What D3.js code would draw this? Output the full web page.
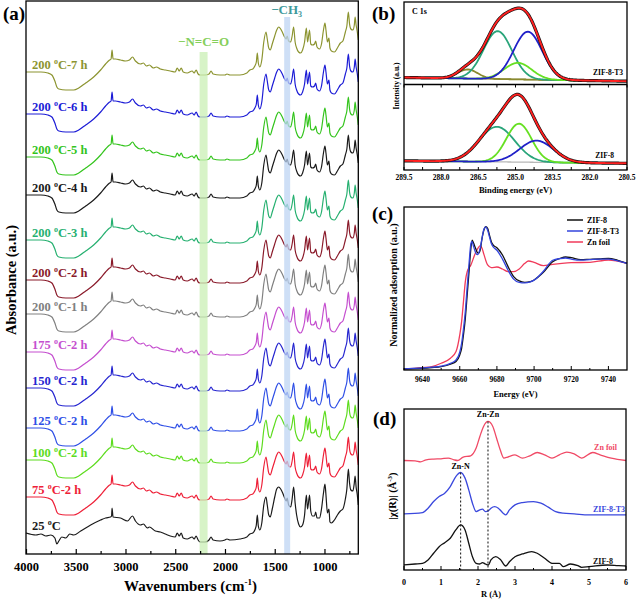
<!DOCTYPE html>
<html><head><meta charset="utf-8">
<script src="https://cdnjs.cloudflare.com/ajax/libs/d3/7.8.5/d3.min.js"></script>
<style>
body{margin:0;background:#fff}
svg{display:block}
text{font-family:"Liberation Serif","Times New Roman",serif;font-weight:bold}
</style>
</head><body>
<svg id="fig" width="638" height="601"></svg>
<script>
// ---------------- DATA ----------------
// (a) FTIR spectra: shape of the treated samples and of the pristine sample (wavenumber, a.u.)
const ftirTreatedShape = [[4000,0],[3850,0],[3780,-0.01],[3740,-0.03],[3710,-0.09],[3690,-0.15],[3670,-0.17],[3600,-0.18],[3520,-0.18],[3470,-0.16],[3400,-0.11],[3320,-0.05],[3250,0.02],[3200,0.08],[3160,0.12],[3145,0.13],[3135,0.22],[3125,0.13],[3100,0.13],[3050,0.12],[3000,0.11],[2960,0.12],[2930,0.15],[2900,0.11],[2850,0.08],[2820,0.09],[2790,0.06],[2760,0.07],[2720,0.04],[2690,0.05],[2650,0.03],[2600,0.02],[2550,0.01],[2500,0],[2480,0.04],[2460,0.01],[2440,0.04],[2420,0],[2380,-0.01],[2330,0.01],[2310,-0.01],[2290,0.02],[2270,-0.02],[2250,-0.03],[2200,-0.03],[2160,-0.02],[2140,0.01],[2120,-0.02],[2050,-0.03],[2000,-0.03],[1980,-0.02],[1950,-0.03],[1850,-0.03],[1780,-0.01],[1750,0.02],[1720,0.03],[1700,0.06],[1685,0.10],[1675,0.19],[1665,0.09],[1650,0.05],[1630,0.12],[1610,0.30],[1588,0.40],[1575,0.33],[1560,0.24],[1545,0.22],[1525,0.28],[1500,0.36],[1480,0.42],[1460,0.45],[1440,0.43],[1420,0.39],[1400,0.35],[1385,0.33],[1375,0.36],[1360,0.31],[1340,0.30],[1325,0.36],[1310,0.45],[1295,0.30],[1280,0.24],[1260,0.20],[1240,0.19],[1220,0.22],[1200,0.30],[1182,0.44],[1170,0.30],[1150,0.42],[1138,0.28],[1120,0.27],[1100,0.28],[1088,0.31],[1075,0.25],[1050,0.23],[1030,0.28],[1010,0.42],[995,0.49],[985,0.42],[970,0.30],[955,0.34],[945,0.24],[930,0.21],[900,0.20],[870,0.24],[840,0.29],[815,0.31],[790,0.40],[775,0.46],[760,0.60],[748,0.48],[735,0.43],[715,0.42],[700,0.47],[692,0.55],[682,0.47],[670,0.40],[660,0.32]];
const ftirPristineShape = [[4000,0],[3900,-0.02],[3850,-0.01],[3800,-0.03],[3750,-0.02],[3710,-0.05],[3690,-0.11],[3670,-0.08],[3640,-0.04],[3600,-0.05],[3560,-0.01],[3520,-0.02],[3450,0.02],[3350,0.08],[3250,0.13],[3200,0.15],[3150,0.16],[3140,0.17],[3135,0.25],[3125,0.16],[3050,0.15],[2980,0.12],[2930,0.17],[2900,0.12],[2850,0.08],[2820,0.09],[2780,0.05],[2760,0.06],[2700,0.02],[2650,0.01],[2600,-0.01],[2550,-0.03],[2500,-0.04],[2480,0],[2460,-0.03],[2440,0],[2420,-0.05],[2380,-0.06],[2330,-0.04],[2310,-0.06],[2290,-0.03],[2270,-0.07],[2250,-0.09],[2200,-0.09],[2160,-0.07],[2140,-0.04],[2120,-0.07],[2050,-0.08],[2000,-0.07],[1980,-0.06],[1950,-0.07],[1850,-0.06],[1780,-0.04],[1750,-0.01],[1720,0],[1700,0.03],[1685,0.08],[1675,0.18],[1665,0.07],[1650,0.03],[1630,0.10],[1610,0.28],[1588,0.36],[1575,0.28],[1560,0.18],[1545,0.16],[1525,0.24],[1500,0.36],[1480,0.44],[1460,0.46],[1440,0.44],[1420,0.40],[1400,0.35],[1385,0.32],[1375,0.35],[1360,0.28],[1340,0.26],[1325,0.34],[1310,0.46],[1295,0.30],[1280,0.18],[1260,0.09],[1240,0.06],[1220,0.08],[1200,0.18],[1182,0.38],[1170,0.24],[1150,0.38],[1138,0.22],[1120,0.17],[1100,0.17],[1088,0.21],[1075,0.15],[1050,0.15],[1030,0.24],[1010,0.40],[995,0.49],[985,0.38],[970,0.20],[955,0.24],[945,0.11],[930,0.10],[900,0.13],[870,0.18],[840,0.22],[815,0.24],[790,0.34],[775,0.44],[760,0.64],[748,0.50],[735,0.43],[715,0.42],[700,0.50],[692,0.57],[682,0.46],[670,0.38],[660,0.28]];
const ftirTemps   = ["200","200","200","200","200","200","200","175","150","125","100","75","25"];
const ftirTimes   = ["-7 h","-6 h","-5 h","-4 h","-3 h","-2 h","-1 h","-2 h","-2 h","-2 h","-2 h","-2 h",""];
const ftirOffsets = [4.82,4.40,3.97,3.59,3.14,2.74,2.40,2.02,1.66,1.26,0.94,0.57,0.21];
const ftirUsesPristine = [false,false,false,false,false,false,false,false,false,false,false,false,true];
const ftirColors  = ["#8c9430","#1c1cd6","#33c41c","#1a1a1a","#26b070","#8a1a2a","#808080","#c54fcf","#2626d0","#2f4fe6","#5ddc1e","#ee2038","#1a1a1a"];
const ftirXTicks  = [4000,3500,3000,2500,2000,1500,1000];
const ftirBands   = [[2255,2175],[1405,1345]];
const ftirBandColors = ["#c9efb4","#bdd4f3"];

// (b) XPS C 1s peak fits: centre (eV), height (a.u.), FWHM (eV)
const xpsT3Centre = [286.93,285.72,284.90,284.50];
const xpsT3Height = [0.11,0.58,0.20,0.58];
const xpsT3Fwhm   = [0.95,1.35,1.30,1.35];
const xpsT3Colors = ["#8a8a2e","#2aa57a","#66e022","#2020c8"];
const xpsT3Background = [[289.5,0.085],[280.5,0.04]];
const xpsZ8Centre = [285.75,284.86,284.15];
const xpsZ8Height = [0.42,0.46,0.26];
const xpsZ8Fwhm   = [1.70,1.20,1.60];
const xpsZ8Colors = ["#2aa57a","#66e022","#2020c8"];
const xpsZ8Background = [[289.5,0.11],[280.5,0.08]];
const xpsXTicks = [289.5,288.0,286.5,285.0,283.5,282.0,280.5];

// (c) XANES (energy eV, normalized absorption)
const xanesZIF8 = [[9630,0],[9645,0.012],[9650,0.021],[9655,0.042],[9658,0.066],[9660,0.126],[9661,0.186],[9662,0.306],[9663,0.456],[9664,0.667],[9665,0.877],[9666,1.087],[9666.7,1.162],[9667.5,1.132],[9668.5,1.087],[9670,1.042],[9671,1.072],[9672,1.177],[9673,1.252],[9674,1.282],[9675,1.267],[9676,1.207],[9677,1.147],[9678,1.117],[9680,1.093],[9683,1.027],[9686,0.922],[9689,0.832],[9692,0.793],[9695,0.781],[9698,0.787],[9700,0.802],[9705,0.871],[9710,0.967],[9714,0.997],[9717,1.009],[9720,1.003],[9725,0.985],[9730,0.988],[9735,0.991],[9740,0.997],[9745,0.979],[9750,0.952]];
const xanesZIF8T3 = [[9630,0],[9645,0.015],[9650,0.025],[9655,0.05],[9658,0.08],[9660,0.15],[9661,0.23],[9662,0.36],[9663,0.52],[9664,0.74],[9665,0.95],[9666,1.13],[9666.5,1.15],[9667.5,1.10],[9668.5,1.05],[9669.5,1.03],[9671,1.09],[9672,1.18],[9673,1.26],[9674,1.28],[9675,1.25],[9676,1.19],[9677,1.13],[9678,1.10],[9680,1.07],[9683,0.99],[9686,0.89],[9689,0.81],[9692,0.78],[9695,0.775],[9698,0.785],[9700,0.80],[9705,0.88],[9710,0.98],[9714,0.995],[9717,1.0],[9720,0.99],[9725,0.98],[9730,0.985],[9735,0.99],[9740,0.99],[9745,0.975],[9750,0.952]];
const xanesZnFoil = [[9630,0],[9640,0.012],[9645,0.021],[9650,0.051],[9655,0.096],[9658,0.156],[9660,0.306],[9661,0.426],[9662,0.607],[9663,0.787],[9664,0.877],[9666,0.937],[9668,1.027],[9670,1.093],[9671,1.111],[9672,1.087],[9673,1.033],[9675,0.937],[9677,0.913],[9680,0.919],[9683,0.901],[9686,0.877],[9689,0.877],[9692,0.901],[9695,0.952],[9697,0.973],[9700,0.961],[9705,0.931],[9710,0.943],[9715,0.952],[9720,0.958],[9730,0.961],[9740,0.982],[9750,0.952]];
const xanesNames  = ["ZIF-8","ZIF-8-T3","Zn foil"];
const xanesColors = ["#111111","#3344dd","#f03a5a"];
const xanesXTicks = [9640,9660,9680,9700,9720,9740];

// (d) EXAFS FT magnitude (R in Å, a.u., offset)
const exafsZnFoil = [[0,1.093],[0.3,1.09],[0.45,1.08],[0.6,1.1],[0.8,1.107],[1.0,1.11],[1.2,1.117],[1.35,1.1],[1.45,1.093],[1.6,1.127],[1.8,1.14],[1.95,1.217],[2.05,1.333],[2.15,1.433],[2.27,1.483],[2.4,1.433],[2.5,1.317],[2.6,1.2],[2.7,1.117],[2.8,1.127],[3.0,1.15],[3.2,1.117],[3.4,1.14],[3.6,1.173],[3.8,1.15],[4.0,1.117],[4.2,1.15],[4.4,1.177],[4.6,1.16],[4.8,1.117],[5.1,1.173],[5.3,1.15],[5.6,1.117],[6.0,1.093]];
const exafsZIF8T3 = [[0,0.56],[0.5,0.573],[0.65,0.617],[0.8,0.683],[0.95,0.733],[1.1,0.767],[1.25,0.833],[1.4,0.933],[1.53,0.973],[1.65,0.917],[1.75,0.8],[1.85,0.667],[1.95,0.583],[2.05,0.6],[2.12,0.607],[2.2,0.583],[2.28,0.59],[2.35,0.617],[2.45,0.633],[2.55,0.617],[2.68,0.567],[2.75,0.55],[2.85,0.6],[3.0,0.65],[3.2,0.673],[3.5,0.683],[3.7,0.667],[3.9,0.627],[4.1,0.583],[4.3,0.567],[4.6,0.56],[5.0,0.55],[6.0,0.55]];
const exafsZIF8 = [[0,0.05],[0.3,0.06],[0.5,0.067],[0.65,0.1],[0.8,0.167],[0.95,0.233],[1.1,0.273],[1.25,0.317],[1.4,0.4],[1.53,0.45],[1.65,0.4],[1.75,0.267],[1.85,0.133],[1.95,0.067],[2.05,0.06],[2.12,0.073],[2.2,0.06],[2.28,0.05],[2.35,0.1],[2.48,0.133],[2.6,0.107],[2.75,0.04],[2.85,0.083],[3.0,0.133],[3.2,0.16],[3.45,0.183],[3.6,0.167],[3.8,0.117],[4.0,0.067],[4.2,0.067],[4.3,0.033],[4.5,0.06],[4.7,0.043],[4.8,0.027],[5.0,0.033],[5.5,0.05],[5.8,0.043],[6.0,0.04]];
const exafsNames  = ["Zn foil","ZIF-8-T3","ZIF-8"];
const exafsColors = ["#f04a66","#3a48dd","#111111"];
const exafsBonds  = [["Zn-N",1.53,0.973],["Zn-Zn",2.27,1.483]];
const exafsXTicks = [0,1,2,3,4,5,6];

// ---------------- DRAWING ----------------
const svg = d3.select("#fig");
svg.append("rect").attr("width",638).attr("height",601).attr("fill","#fff");

function superText(g, x, y, parts, opts){
  const t = g.append("text").attr("x",x).attr("y",y);
  Object.entries(opts||{}).forEach(([k,v])=>{ if(k!=="supShift"&&k!=="supSize") t.attr(k,v); });
  let shifted = false;
  parts.forEach(([s,sup])=>{
    const ts = t.append("tspan").text(s);
    if(sup && !shifted){ ts.attr("dy",-opts.supShift).attr("font-size",opts.supSize); shifted=true; }
    else if(!sup && shifted){ ts.attr("dy",opts.supShift); shifted=false; }
  });
  return t;
}

// ===== Panel (a) =====
const A = {l:26, r:358.3, t:1, b:554};
const ax = d3.scaleLinear().domain([4000,660]).range([A.l,A.r]);
const ay = d3.scaleLinear().domain([0,5.53]).range([A.b,A.t]);
const ga = svg.append("g");

const lineA = d3.line().x(d=>ax(d[0])).y(d=>ay(d[1])).curve(d3.curveMonotoneX);
ftirOffsets.forEach((off,i)=>{
  const shape = ftirUsesPristine[i] ? ftirPristineShape : ftirTreatedShape;
  ga.append("path").datum(shape.map(p=>[p[0],p[1]+off]))
    .attr("d",lineA).attr("fill","none").attr("stroke",ftirColors[i]).attr("stroke-width",1.2);
});
const bandTops = [52,17];
ftirBands.forEach((b,i)=>{
  ga.append("rect").attr("x",ax(b[0])).attr("width",ax(b[1])-ax(b[0]))
    .attr("y",bandTops[i]).attr("height",A.b-bandTops[i])
    .attr("fill",ftirBandColors[i]).attr("opacity",0.75);
});
ga.append("text").attr("x",ax((ftirBands[0][0]+ftirBands[0][1])/2)).attr("y",46)
  .attr("text-anchor","middle").attr("font-size",13).attr("font-weight","normal").attr("fill","#86cf5c").text("−N=C=O");
superText(ga, ax((ftirBands[1][0]+ftirBands[1][1])/2)-16, 14, [["−CH",false],["3",true]],
  {"font-size":13,"font-weight":"normal","fill":"#3f9a9c",supShift:-3,supSize:8});
ftirOffsets.forEach((off,i)=>{
  superText(ga, 32, ay(off)-3, [[ftirTemps[i]+" ",false],["o",true],["C"+ftirTimes[i],false]],
    {"font-size":12.5,"fill":ftirColors[i],supShift:5,supSize:8});
});
ga.append("rect").attr("x",A.l).attr("y",A.t).attr("width",A.r-A.l).attr("height",A.b-A.t)
  .attr("fill","none").attr("stroke","#000").attr("stroke-width",1.3);
const axA = ga.append("g").attr("transform",`translate(0,${A.b})`)
  .call(d3.axisBottom(ax).tickValues(ftirXTicks).tickSize(-5).tickPadding(8).tickFormat(d3.format("d")));
axA.select(".domain").remove();
axA.selectAll("text").attr("font-size",12.5).attr("font-family","Liberation Serif").attr("font-weight","bold").attr("fill","#000");
axA.selectAll("line").attr("stroke","#000").attr("stroke-width",1.2);
const axAm = ga.append("g").attr("transform",`translate(0,${A.b})`)
  .call(d3.axisBottom(ax).tickValues(ftirXTicks.map(t=>t-250).filter(t=>t>660)).tickSize(-3).tickFormat(""));
axAm.select(".domain").remove();
axAm.selectAll("line").attr("stroke","#000").attr("stroke-width",1.2);
superText(ga, 124, 591, [["Wavenumbers (cm",false],["-1",true],[")",false]],
  {"font-size":15,"fill":"#000",supShift:6,supSize:9});
ga.append("text").attr("transform","translate(16,280) rotate(-90)").attr("text-anchor","middle")
  .attr("font-size",14.5).text("Absorbance (a.u.)");

// ===== Panel (b) =====
const B = {l:404, r:627, t:2, m:84.5, b:170};
const bx = d3.scaleLinear().domain([289.5,280.5]).range([B.l,B.r]);
const byT = d3.scaleLinear().domain([0,1]).range([B.m,B.t]);
const byB = d3.scaleLinear().domain([0,1]).range([B.b,B.m+2]);
const gb = svg.append("g");
const grid = d3.range(280.5,289.5001,0.05);
function bgAt(bg,e){ return bg[0][1] + (e-bg[0][0])*(bg[1][1]-bg[0][1])/(bg[1][0]-bg[0][0]); }
function gauss(c,h,w,e){ const s=w/2.3548; return h*Math.exp(-((e-c)*(e-c))/(2*s*s)); }
function drawXps(centres,heights,fwhms,colors,bg,yScale){
  const ln = d3.line().x(d=>bx(d[0])).y(d=>yScale(d[1]));
  gb.append("path").datum(grid.map(e=>[e,bgAt(bg,e)])).attr("d",ln).attr("fill","none")
    .attr("stroke", centres.length>3 ? "#7a7a3a" : "#b8b8b8").attr("stroke-width",1.3);
  centres.forEach((c,i)=>{
    gb.append("path").datum(grid.map(e=>[e,bgAt(bg,e)+gauss(c,heights[i],fwhms[i],e)]))
      .attr("d",ln).attr("fill","none").attr("stroke",colors[i]).attr("stroke-width",1.8);
  });
  const env = grid.map(e=>[e,bgAt(bg,e)+d3.sum(centres,(c,i)=>gauss(c,heights[i],fwhms[i],e))]);
  gb.append("path").datum(env).attr("d",ln).attr("fill","none").attr("stroke","#111").attr("stroke-width",3.2);
  gb.append("path").datum(env).attr("d",ln).attr("fill","none").attr("stroke","#ff2020").attr("stroke-width",1.9);
}
drawXps(xpsT3Centre,xpsT3Height,xpsT3Fwhm,xpsT3Colors,xpsT3Background,byT);
drawXps(xpsZ8Centre,xpsZ8Height,xpsZ8Fwhm,xpsZ8Colors,xpsZ8Background,byB);
gb.append("rect").attr("x",B.l).attr("y",B.t).attr("width",B.r-B.l).attr("height",B.b-B.t)
  .attr("fill","none").attr("stroke","#000").attr("stroke-width",1.3);
gb.append("line").attr("x1",B.l).attr("x2",B.r).attr("y1",B.m).attr("y2",B.m).attr("stroke","#000").attr("stroke-width",1.3);
const minorB = d3.range(289.5,280.49,-0.75);
[[B.b,-3],[B.m,3]].forEach(([yy,len])=>{
  minorB.forEach(v=>gb.append("line").attr("x1",bx(v)).attr("x2",bx(v)).attr("y1",yy).attr("y2",yy+len).attr("stroke","#000").attr("stroke-width",1));
});
xpsXTicks.forEach(v=>gb.append("text").attr("x",bx(v)).attr("y",180).attr("text-anchor","middle").attr("font-size",7.5).text(v.toFixed(1)));
gb.append("text").attr("x",(B.l+B.r)/2).attr("y",193).attr("text-anchor","middle").attr("font-size",8.5).text("Binding energy (eV)");
gb.append("text").attr("transform",`translate(399,${(B.t+B.b)/2}) rotate(-90)`).attr("text-anchor","middle").attr("font-size",7.5).text("Intensity (a.u.)");
gb.append("text").attr("x",412).attr("y",14).attr("font-size",8).text("C 1s");
gb.append("text").attr("x",623).attr("y",75).attr("text-anchor","end").attr("font-size",7.5).text("ZIF-8-T3");
gb.append("text").attr("x",614).attr("y",158).attr("text-anchor","end").attr("font-size",7.5).text("ZIF-8");

// ===== Panel (c) =====
const C = {l:404, r:627, t:207, b:370};
const cx = d3.scaleLinear().domain([9630,9750]).range([C.l,C.r]);
const cy = d3.scaleLinear().domain([-0.01,1.46]).range([C.b,C.t]);
const gc = svg.append("g");
const lineC = d3.line().x(d=>cx(d[0])).y(d=>cy(d[1])).curve(d3.curveMonotoneX);
[xanesZnFoil,xanesZIF8,xanesZIF8T3].forEach((s,k)=>{
  const idx = [2,0,1][k];
  gc.append("path").datum(s).attr("d",lineC).attr("fill","none").attr("stroke",xanesColors[idx]).attr("stroke-width",1.3);
});
gc.append("rect").attr("x",C.l).attr("y",C.t).attr("width",C.r-C.l).attr("height",C.b-C.t)
  .attr("fill","none").attr("stroke","#000").attr("stroke-width",1.3);
xanesXTicks.forEach(v=>{
  gc.append("line").attr("x1",cx(v)).attr("x2",cx(v)).attr("y1",C.b).attr("y2",C.b-4).attr("stroke","#000");
  gc.append("text").attr("x",cx(v)).attr("y",382).attr("text-anchor","middle").attr("font-size",7.5).text(v);
});
xanesXTicks.map(v=>v+10).filter(v=>v<9750).concat([9630]).forEach(v=>{
  gc.append("line").attr("x1",cx(v)).attr("x2",cx(v)).attr("y1",C.b).attr("y2",C.b-2).attr("stroke","#000");
});
gc.append("text").attr("x",(C.l+C.r)/2).attr("y",397).attr("text-anchor","middle").attr("font-size",8.5).text("Energy (eV)");
gc.append("text").attr("transform",`translate(397,285) rotate(-90)`).attr("text-anchor","middle").attr("font-size",10).text("Normalized adsorption (a.u.)");
xanesNames.forEach((n,i)=>{
  const yy = 220 + i*11;
  gc.append("line").attr("x1",567).attr("x2",583).attr("y1",yy).attr("y2",yy).attr("stroke",xanesColors[i]).attr("stroke-width",1.5);
  gc.append("text").attr("x",587).attr("y",yy+3).attr("font-size",8).text(n);
});

// ===== Panel (d) =====
const D = {l:404, r:626, t:409, b:570};
const dx = d3.scaleLinear().domain([0,6]).range([D.l,D.r]);
const dy = d3.scaleLinear().domain([0,1.607]).range([D.b,D.t]);
const gd = svg.append("g");
const lineD = d3.line().x(d=>dx(d[0])).y(d=>dy(d[1])).curve(d3.curveMonotoneX);
[exafsZnFoil,exafsZIF8T3,exafsZIF8].forEach((s,i)=>{
  gd.append("path").datum(s).attr("d",lineD).attr("fill","none").attr("stroke",exafsColors[i]).attr("stroke-width",1.3);
});
exafsBonds.forEach(([name,r,top])=>{
  gd.append("line").attr("x1",dx(r)).attr("x2",dx(r)).attr("y1",dy(top)).attr("y2",D.b)
    .attr("stroke","#222").attr("stroke-width",1.1).attr("stroke-dasharray","2,2");
  gd.append("text").attr("x",dx(r)).attr("y",dy(top)-4).attr("text-anchor","middle").attr("font-size",8).text(name);
});
gd.append("rect").attr("x",D.l).attr("y",D.t).attr("width",D.r-D.l).attr("height",D.b-D.t)
  .attr("fill","none").attr("stroke","#000").attr("stroke-width",1.3);
exafsXTicks.forEach(v=>{
  gd.append("line").attr("x1",dx(v)).attr("x2",dx(v)).attr("y1",D.b).attr("y2",D.b-4).attr("stroke","#000");
  gd.append("text").attr("x",dx(v)).attr("y",585).attr("text-anchor","middle").attr("font-size",8).text(v);
});
exafsXTicks.slice(0,-1).forEach(v=>{
  gd.append("line").attr("x1",dx(v+0.5)).attr("x2",dx(v+0.5)).attr("y1",D.b).attr("y2",D.b-2).attr("stroke","#000");
});
gd.append("text").attr("x",491).attr("y",597).attr("text-anchor","middle").attr("font-size",8.5).text("R (Å)");
superText(gd.append("g").attr("transform",`translate(396,${(D.t+D.b)/2}) rotate(-90)`), -30, 0,
  [["|χ(R)| (Å",false],["-3",true],[")",false]], {"font-size":10.5,supShift:4,supSize:7});
const exLabelPos = [[617,450],[625,512],[613,564]];
exafsNames.forEach((n,i)=>{
  gd.append("text").attr("x",exLabelPos[i][0]).attr("y",exLabelPos[i][1]).attr("text-anchor","end")
    .attr("font-size",8).attr("fill",exafsColors[i]).text(n);
});

[["(a)",3,20],["(b)",372,20],["(c)",372,220],["(d)",373,425]].forEach(([t,x,y])=>{
  svg.append("text").attr("x",x).attr("y",y).attr("font-size",19).text(t);
});
</script>
</body></html>
